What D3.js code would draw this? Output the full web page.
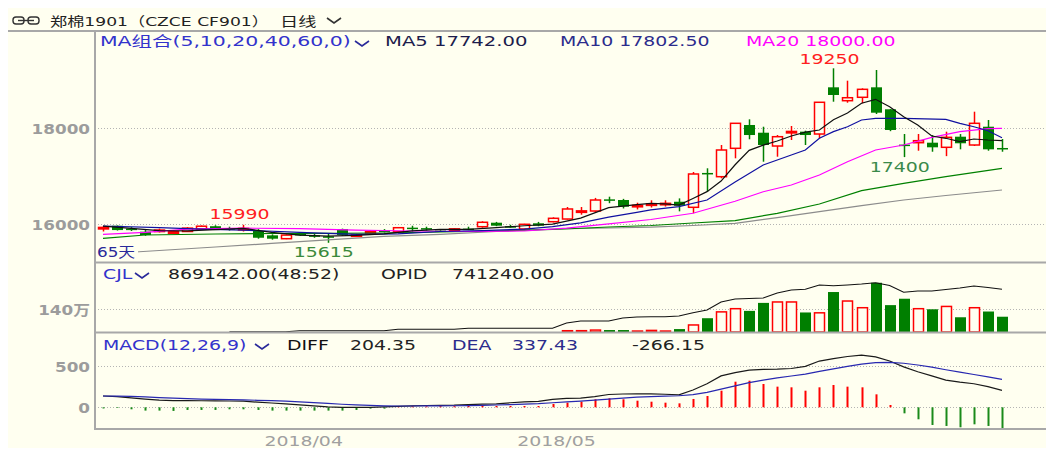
<!DOCTYPE html>
<html>
<head>
<meta charset="utf-8">
<script src="https://cdn.jsdelivr.net/npm/d3@7"></script>
<style>
  body { margin: 0; background: #fff; }
  svg { display: block; font-family: "DejaVu Sans", "Noto Sans CJK SC", sans-serif; }
</style>
</head>
<body>
<div id="wrapper"></div>
<script>
// DATA - 65 daily bars
const opens  = [15920,15970,15910,15846,15860,15830,15850,15900,15960,15920,15900,15860,15770,15700,15800,15770,15750,15900,15770,15830,15870,15846,15930,15920,15870,15895,15910,15950,16033,15960,15902,16021,16054,16110,16260,16277,16520,16506,16380,16410,16420,16470,16354,17070,16992,17583,18069,17908,17631,17910,17930,17881,18854,18575,18646,18854,18396,17660,17700,17700,17604,17825,17652,18033,17590]
const highs  = [15960,15975,15940,15880,15910,15870,15940,15975,15980,15950,15990,15900,15790,15790,15830,15800,15800,15910,15800,15880,15900,15940,15970,15950,15880,15920,15950,16063,16050,15990,16010,16050,16146,16360,16360,16550,16575,16530,16450,16500,16500,16540,17090,17167,17652,18110,18187,18033,17860,18048,17950,18542,19250,18992,18833,19215,18400,17881,17881,17860,17929,17880,18346,18173,17777]
const lows   = [15850,15870,15860,15760,15830,15810,15840,15890,15890,15870,15850,15700,15680,15690,15760,15720,15615,15760,15750,15810,15830,15830,15850,15870,15840,15880,15880,15930,15960,15930,15890,15960,16040,16100,16200,16240,16440,16330,16310,16350,16370,16270,16230,16680,16958,17375,17771,17304,17408,17756,17652,17792,18554,18533,18521,18298,17940,17400,17533,17512,17420,17562,17631,17533,17512]
const closes = [15935,15880,15890,15777,15880,15845,15920,15960,15900,15905,15915,15720,15700,15775,15790,15760,15735,15778,15780,15846,15860,15929,15910,15900,15855,15905,15895,16042,15971,15945,16000,15971,16125,16319,16280,16506,16500,16367,16395,16425,16437,16387,17048,17060,17548,18104,17860,17652,17825,17935,17860,18542,18694,18637,18812,18325,17965,17640,17742,17604,17812,17688,18104,17562,17560]

// CJL (volume) and OPID (open interest)
const volumes = [12000,9000,8000,11000,7000,6000,9000,8000,7000,6000,9000,14000,10000,8000,7000,6000,9000,11000,6000,7000,8000,10000,9000,7000,6000,8000,9000,15000,12000,10000,14000,16000,30000,78000,80000,117000,58000,58000,58000,97000,58000,117000,428000,778000,1225000,1419000,1225000,1711000,1828000,1828000,1128000,1167000,2372000,1886000,1478000,2936000,1575000,1964000,1419000,1322000,1556000,836000,1478000,1186000,869142]
const openInterest = [null,null,null,null,null,null,null,null,null,5000,5000,5000,5000,5000,22000,22000,22000,22000,22000,22000,22000,47000,47000,47000,47000,47000,64000,64000,64000,64000,64000,64000,64000,156000,191000,191000,191000,243000,260000,266000,266000,278000,335000,382000,521000,573000,582000,590000,677000,729000,741000,816000,804000,816000,833000,856000,807000,689000,712000,712000,738000,764000,798000,773000,741240]

// moving averages, read at these bar positions
const ma5Idx = [0,2,4,6,8,10,12,14,16,18,20,22,24,26,28,30,32,34,36,38,39,40,41,42,43,44,45,46,47,48,49,50,51,52,53,54,55,56,57,58,59,60,61,62,63,64]
const ma5    = [15960,15915,15870,15862,15890,15915,15830,15775,15752,15768,15800,15865,15895,15893,15930,15970,16005,16130,16346,16410,16435,16425,16400,16538,16680,16900,17240,17540,17650,17735,17840,17920,17965,18180,18320,18521,18604,18450,18242,18069,17840,17792,17721,17777,17756,17742]
const ma10Idx = [0,4,7,10,14,18,21,24,27,30,32,34,36,38,39,41,43,45,47,49,50,51,52,53,54,55,57,60,61,62,63,64]
const ma10    = [15965,15930,15900,15880,15830,15790,15800,15850,15870,15900,15950,16030,16150,16250,16300,16370,16506,16880,17235,17444,17548,17792,17930,18033,18173,18208,18208,18187,18104,18033,17950,17802.5]
const ma20Idx = [0,3,6,10,14,18,22,26,30,33,36,39,42,45,47,49,51,53,55,57,59,61,63,64]
const ma20    = [15790,15830,15900,15920,15910,15880,15860,15850,15860,15920,16010,16100,16230,16480,16679,16819,17027,17304,17548,17652,17812,17930,17995,18000]
const ma40Idx = [0,3,8,12,16,20,24,28,32,36,39,42,45,48,51,54,57,60,64]
const ma40    = [15708,15777,15798,15808,15812,15819,15840,15860,15892,15944,15975,16027,16075,16229,16423,16700,16854,16992,17167]
const ma60Idx = [0,4,8,12,16,20,24,28,32,36,39,42,45,48,51,54,57,60,64]
const ma60    = [15381,15454,15527,15602,15675,15748,15792,15850,15902,15923,15940,15975,16021,16140,16263,16390,16506,16600,16715]

// MACD(12,26,9)
const diff = [137,130,115,100,88,82,80,79,77,76,74,62,52,42,30,18,6,0,-2,0,4,10,18,22,24,26,32,38,42,55,66,72,95,108,112,130,155,161,162,162,158,150,210,285,380,420,450,460,462,470,495,560,590,615,632,610,560,490,430,380,330,305,285,250,204.35]
const dea  = [137,136,133,126,118,111,105,100,96,92,89,85,80,74,66,57,47,37,29,23,18,16,16,17,18,19,21,24,28,33,39,45,55,65,75,86,100,112,122,130,136,140,154,180,220,260,298,330,356,379,402,434,465,495,522,540,544,533,512,486,455,425,397,368,337.43]
const macdHist = [-2,-8,-24,-40,-40,-44,-32,-32,-32,-24,-24,-32,-40,-40,-40,-40,-40,-40,-32,-16,-4,8,12,12,14,14,16,16,16,16,16,16,40,56,68,97,109,97,80,68,56,48,101,137,201,310,322,282,250,242,201,242,270,250,242,157,28,-73,-145,-214,-226,-242,-206,-226,-266.15]

// ticks
const priceTicks = [16000, 18000]
const volTicks = [1400000]
const volTickLabels = ["140万"]
const macdTicks = [0, 500]
const monthIdx = [14, 32]
const monthLabels = ["2018/04", "2018/05"]

// CANVAS
const width = 1054, height = 454
const bg = "#fffff0"
const up = "#ff0000", down = "#007f00"
const SX = 1.35
const fmt2 = v => v.toFixed(2)

const svg = d3.select("#wrapper").append("svg")
  .attr("width", width).attr("height", height)

svg.append("rect").attr("width", width).attr("height", height).attr("fill", "#fff")
svg.append("rect").attr("x", 8).attr("y", 8).attr("width", 1038).attr("height", 440).attr("fill", bg)

function label(sel, x, y, str, color, o = {}) {
  return sel.append("text")
    .attr("transform", `translate(${x},${y}) scale(${o.sx || SX},1)`)
    .attr("text-anchor", o.anchor || "start")
    .attr("fill", color)
    .style("font-size", (o.size || 14) + "px")
    .style("font-weight", o.weight || "normal")
    .text(str)
}
function chevron(x, y, color) {
  svg.append("path").attr("d", `M${x},${y} L${x + 7},${y + 5} L${x + 14},${y}`)
    .attr("fill", "none").attr("stroke", color).attr("stroke-width", 1.6)
}

// SCALES
const x = d3.scalePoint().domain(d3.range(closes.length)).range([103, 1002])
const yPrice = d3.scaleLinear().domain([16000, 18000]).range([224.3, 128.3])
const yVol = d3.scaleLinear().domain([0, 1400000]).range([332, 309])
const yOi = d3.scaleLinear().domain([0, 741240]).range([332, 289.3])
const yMacd = d3.scaleLinear().domain([0, 500]).range([407.3, 366])

const left = 95, right = 1046

// GRIDLINES
const grid = svg.append("g").attr("stroke", "#b4b4b4").attr("stroke-dasharray", "1,2")
const gridAt = y => grid.append("line").attr("x1", left).attr("x2", right)
  .attr("y1", Math.round(y) + 0.5).attr("y2", Math.round(y) + 0.5)
priceTicks.forEach(t => gridAt(yPrice(t)))
volTicks.forEach(t => gridAt(yVol(t)))
macdTicks.forEach(t => gridAt(yMacd(t)))

// CANDLES
const candles = svg.append("g")
closes.forEach((c, i) => {
  const o = opens[i], isUp = c >= o
  const col = isUp ? up : down
  const cx = Math.round(x(i)) + 0.5
  candles.append("line").attr("x1", cx).attr("x2", cx)
    .attr("y1", yPrice(highs[i])).attr("y2", yPrice(lows[i]))
    .attr("stroke", col).attr("stroke-width", 1.5)
  const top = yPrice(Math.max(o, c)), h = Math.max(1.5, yPrice(Math.min(o, c)) - top)
  if (isUp) {
    candles.append("rect").attr("x", cx - 5).attr("y", top).attr("width", 10).attr("height", h)
      .attr("fill", bg).attr("stroke", col).attr("stroke-width", 1.5)
  } else {
    candles.append("rect").attr("x", cx - 5.5).attr("y", top).attr("width", 11).attr("height", h)
      .attr("fill", col)
  }
})

// MA LINES
const maLine = d3.line().x(d => x(d[0])).y(d => yPrice(d[1]))
const maSeries = [
  [ma60Idx, ma60, "#8c8c8c"],
  [ma40Idx, ma40, "#008000"],
  [ma20Idx, ma20, "#ff00ff"],
  [ma10Idx, ma10, "#1010a0"],
  [ma5Idx, ma5, "#101010"]
]
maSeries.forEach(([idx, vals, col]) => {
  svg.append("path").attr("d", maLine(idx.map((k, j) => [k, vals[j]])))
    .attr("fill", "none").attr("stroke", col).attr("stroke-width", 1.2)
})

// high / low marks
const hiI = d3.maxIndex(highs), loI = d3.minIndex(lows)
const loI2 = 57, hiI2 = 10
label(svg, x(hiI) - 4, yPrice(highs[hiI]) - 4, highs[hiI], "#ff2020", { anchor: "middle" })
label(svg, x(hiI2) - 4, yPrice(highs[hiI2]) - 6, highs[hiI2], "#ff2020", { anchor: "middle" })
label(svg, x(loI) - 4, yPrice(lows[loI]) + 14, lows[loI], "#3a8a3a", { anchor: "middle" })
label(svg, x(loI2) - 4, yPrice(lows[loI2]) + 15, lows[loI2], "#3a8a4a", { anchor: "middle" })
svg.append("rect").attr("x", 96).attr("y", 244).attr("width", 42).attr("height", 16).attr("fill", bg)
label(svg, 97, 257, closes.length + "天", "#2a2a9a", { sx: 1.2 })

// VOLUME (bars well under one pixel are not drawn)
const vol = svg.append("g")
volumes.forEach((v, i) => {
  const isUp = closes[i] >= opens[i]
  const cx = Math.round(x(i)) + 0.5
  const top = yVol(v), h = 332 - top
  if (h < 0.6) return
  if (isUp) {
    vol.append("rect").attr("x", cx - 5).attr("y", top).attr("width", 10).attr("height", h)
      .attr("fill", bg).attr("stroke", up).attr("stroke-width", 1.5)
  } else {
    vol.append("rect").attr("x", cx - 5.5).attr("y", top - 1).attr("width", 11).attr("height", h + 1)
      .attr("fill", down)
  }
})
svg.append("path")
  .attr("d", d3.line().defined(d => d != null).x((d, i) => x(i)).y(d => yOi(d))(openInterest))
  .attr("fill", "none").attr("stroke", "#111").attr("stroke-width", 1.1)

// MACD
const macd = svg.append("g")
macdHist.forEach((v, i) => {
  const cx = Math.round(x(i)) + 0.5
  macd.append("line").attr("x1", cx).attr("x2", cx)
    .attr("y1", yMacd(0)).attr("y2", yMacd(v) + (Math.abs(v) < 5 ? 1 : 0))
    .attr("stroke", v >= 0 ? up : "#1a8a1a").attr("stroke-width", 2)
})
const lineMacd = d3.line().x((d, i) => x(i)).y(d => yMacd(d))
svg.append("path").attr("d", lineMacd(diff)).attr("fill", "none").attr("stroke", "#1a1a1a").attr("stroke-width", 1.2)
svg.append("path").attr("d", lineMacd(dea)).attr("fill", "none").attr("stroke", "#2828b0").attr("stroke-width", 1.2)

// FRAME
const frame = svg.append("g").attr("stroke", "#a8a8a8").attr("stroke-width", 2)
frame.append("line").attr("x1", 8).attr("x2", right).attr("y1", 31).attr("y2", 31)
frame.append("line").attr("x1", left).attr("x2", left).attr("y1", 31).attr("y2", 430)
;[262.5, 332.5, 429].forEach(y => frame.append("line").attr("x1", left).attr("x2", right).attr("y1", y).attr("y2", y))

// TITLE BAR
svg.append("rect").attr("x", 13).attr("y", 17).attr("width", 11).attr("height", 7).attr("rx", 3)
  .attr("fill", "none").attr("stroke", "#333").attr("stroke-width", 1.4)
svg.append("rect").attr("x", 28).attr("y", 17).attr("width", 11).attr("height", 7).attr("rx", 3)
  .attr("fill", "none").attr("stroke", "#333").attr("stroke-width", 1.4)
svg.append("line").attr("x1", 18).attr("x2", 34).attr("y1", 20.5).attr("y2", 20.5).attr("stroke", "#333").attr("stroke-width", 1.4)
label(svg, 50, 26, "郑棉1901（CZCE CF901）", "#222", { size: 13, sx: 1.32 })
label(svg, 280, 26, "日线", "#222", { size: 13, sx: 1.4 })
chevron(327, 18, "#333")

// PANEL HEADERS
label(svg, 100, 45.5, "MA组合(5,10,20,40,60,0)", "#3333cc", { sx: 1.46 })
chevron(355, 41, "#2a2a9a")
label(svg, 385, 45.5, "MA5 " + fmt2(ma5[ma5.length - 1]), "#1c1c4c", { sx: 1.4 })
label(svg, 560, 45.5, "MA10 " + fmt2(ma10[ma10.length - 1]), "#2c2c8c")
label(svg, 746, 45.5, "MA20 " + fmt2(ma20[ma20.length - 1]), "#ff00ff")

const last = closes.length - 1
label(svg, 103, 279, "CJL", "#3333cc")
chevron(135, 273, "#2a2a9a")
label(svg, 168, 279, fmt2(volumes[last]) + "(48:52)", "#222")
label(svg, 381, 279, "OPID", "#222")
label(svg, 452, 279, fmt2(openInterest[last]), "#222")

label(svg, 103, 350, "MACD(12,26,9)", "#3333cc")
chevron(255, 344, "#2a2a9a")
label(svg, 287, 350, "DIFF", "#111")
label(svg, 350, 350, fmt2(diff[last]), "#222")
label(svg, 452, 350, "DEA", "#2c2c8c")
label(svg, 512, 350, fmt2(dea[last]), "#2c2c8c")
label(svg, 632, 350, fmt2(macdHist[last]), "#222")

// AXIS LABELS
const axisCol = "#9c9c9c"
priceTicks.forEach(t => label(svg, 90, yPrice(t) + 5.5, t, axisCol, { anchor: "end", weight: "bold", sx: 1.2 }))
volTicks.forEach((t, j) => label(svg, 90, yVol(t) + 5.5, volTickLabels[j], axisCol, { anchor: "end", weight: "bold", sx: 1.2 }))
macdTicks.forEach(t => label(svg, 90, yMacd(t) + 5.5, t, axisCol, { anchor: "end", weight: "bold", sx: 1.2 }))
monthIdx.forEach((k, j) => label(svg, x(k) + 4, 446, monthLabels[j], "#a0a0a0", { anchor: "middle" }))
</script>
</body>
</html>
